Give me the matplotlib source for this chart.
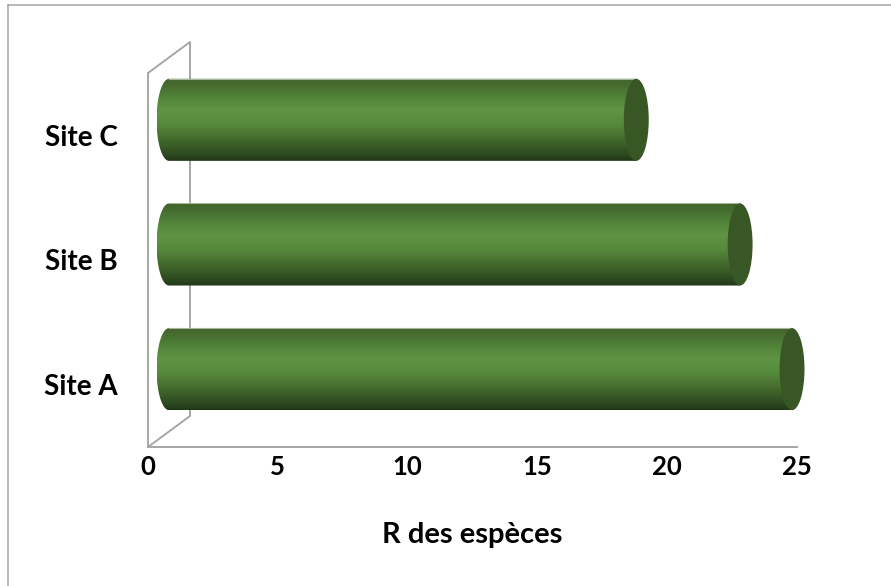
import numpy as np
import matplotlib
matplotlib.use("Agg")
import matplotlib.pyplot as plt
from matplotlib.path import Path
from matplotlib.patches import PathPatch, Ellipse
from matplotlib.lines import Line2D
from matplotlib.colors import to_rgb

# Data
sites = ["Site A", "Site B", "Site C"]
richness = [24, 22, 18]
xticks = [0, 5, 10, 15, 20, 25]
xlabel = "R des espèces"

plt.rcParams["font.family"] = ["Lato", "DejaVu Sans"]

W, H = 891, 586
fig = plt.figure(figsize=(W / 100, H / 100), dpi=100)
fig.patch.set_facecolor("white")

# Axes = front plane of the 3-D box
ax = fig.add_axes([148 / W, 139 / H, 649 / W, 374 / H])
ax.set_xlim(0, 25)
ax.set_ylim(-0.5, 2.5)
ax.set_facecolor("none")

px_x = 649 / 25.0        # pixels per value unit
px_y = 374 / 3.0         # pixels per category unit
DX = 42 / px_x           # depth offset in value units
DY = 31 / px_y           # depth offset in category units

grey = "#a6a6a6"
for s in ("top", "right"):
    ax.spines[s].set_visible(False)
for s in ("left", "bottom"):
    ax.spines[s].set_color(grey)
    ax.spines[s].set_linewidth(1.4)

# Side wall outline
ax.plot([0, DX, DX], [2.5, 2.5 + DY, -0.5 + DY], color=grey, lw=1.4,
        clip_on=False, zorder=1, solid_capstyle="butt")
ax.plot([0, DX], [-0.5, -0.5 + DY], color=grey, lw=1.4, clip_on=False, zorder=1)

# Cylinder shading (bottom -> top)
stops = [(0.00, "#203616"), (0.06, "#2b4620"), (0.20, "#3c5f28"),
         (0.45, "#578b3c"), (0.62, "#5f9542"), (0.80, "#4f7f37"),
         (0.94, "#44692e"), (1.00, "#3f6129")]
n = 200
t = np.linspace(0, 1, n)
pos = [p for p, _ in stops]
cols = np.array([to_rgb(c) for _, c in stops])
grad = np.stack([np.interp(t, pos, cols[:, k]) for k in range(3)], axis=-1)
grad = grad[:, None, :]

cap_color = "#385725"
rx = 0.48
hh = 0.329

for i, (name, v) in enumerate(zip(sites, richness)):
    yc = i + DY / 2
    x0 = DX / 2
    x1 = DX / 2 + v
    th = np.linspace(-np.pi / 2, np.pi / 2, 60)
    verts = [(x0, yc + hh), (x1, yc + hh), (x1, yc - hh), (x0, yc - hh)]
    verts += [(x0 - rx * np.cos(a), yc + hh * np.sin(a)) for a in th]
    verts.append((x0, yc + hh))
    codes = [Path.MOVETO] + [Path.LINETO] * (len(verts) - 2) + [Path.CLOSEPOLY]
    body = PathPatch(Path(verts, codes), facecolor="none", edgecolor="none",
                     transform=ax.transData)
    ax.add_patch(body)
    im = ax.imshow(grad, extent=(x0 - rx, x1, yc - hh, yc + hh), origin="lower",
                   aspect="auto", interpolation="bilinear", zorder=3)
    im.set_clip_path(body)
    im.set_clip_box(fig.bbox)
    ax.plot([x0, x1], [yc + hh, yc + hh], color="#a7b59b", lw=0.8,
            clip_on=False, zorder=3.5)
    cap = Ellipse((x1, yc), 2 * rx, 2 * hh, facecolor=cap_color,
                  edgecolor="none", clip_on=False, zorder=4)
    ax.add_patch(cap)

ax.set_xlim(0, 25)
ax.set_ylim(-0.5, 2.5)

ax.set_xticks(xticks)
ax.set_xticklabels([str(x) for x in xticks], fontsize=18.5, fontweight="bold")
ax.set_yticks(range(len(sites)))
ax.set_yticklabels(sites, fontsize=20, fontweight="bold")
ax.tick_params(axis="x", length=0, pad=6)
ax.tick_params(axis="y", length=0, pad=22)
ax.set_xlabel(xlabel, fontsize=21, fontweight="bold", labelpad=31)

# Chart area border (left and top edges)
fig.add_artist(Line2D([7.5 / W, 7.5 / W], [0, 1 - 5.3 / H], color=grey, lw=1.1,
                      transform=fig.transFigure))
fig.add_artist(Line2D([7.5 / W, 1], [1 - 5.3 / H, 1 - 5.3 / H], color=grey, lw=1.1,
                      transform=fig.transFigure))

fig.savefig("out.png", dpi=100, facecolor="white")
